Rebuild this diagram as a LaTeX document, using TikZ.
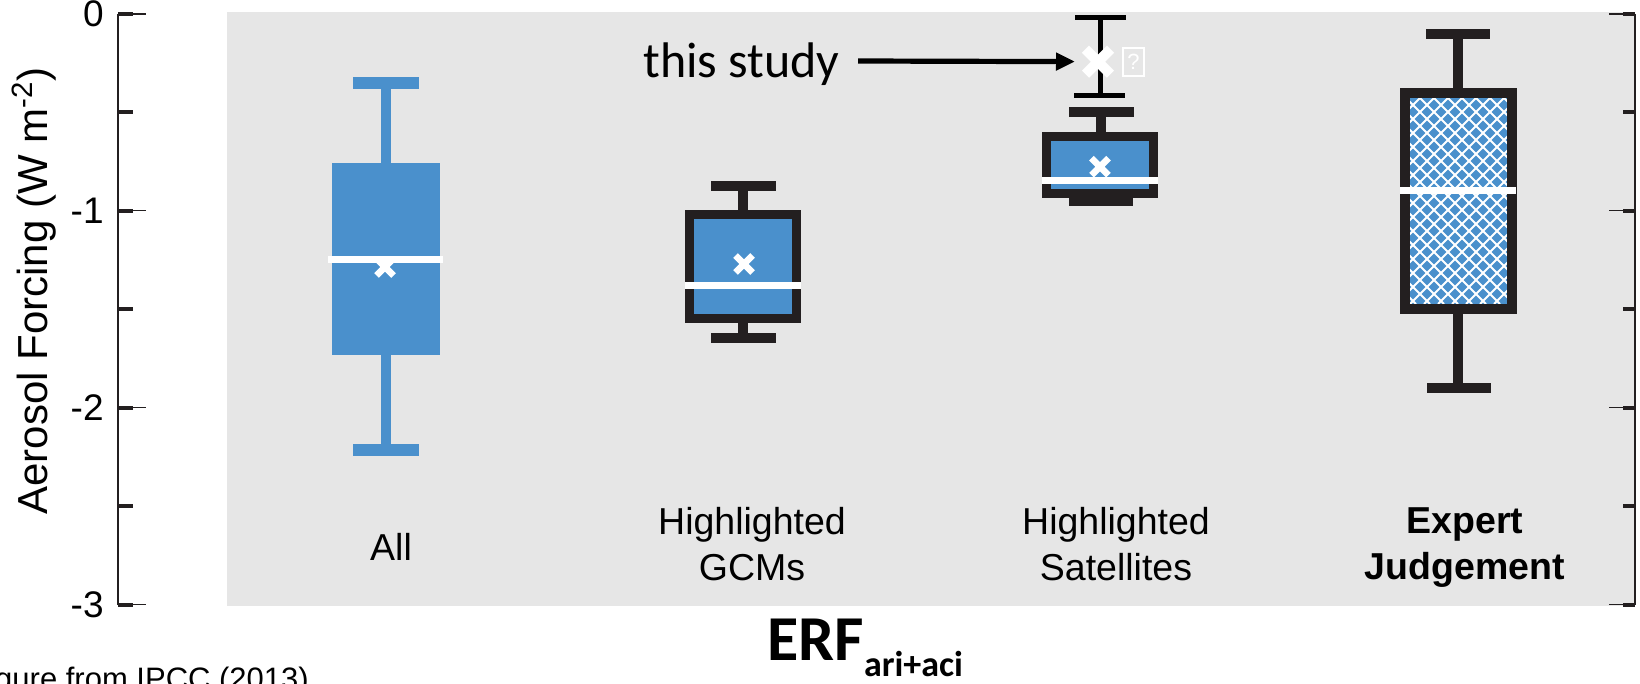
\documentclass[tikz,border=0pt]{standalone}
\usepackage{fontspec}
\setmainfont{Liberation Sans}
\newfontfamily\carlito{Carlito}
\usetikzlibrary{arrows.meta}
\definecolor{panel}{RGB}{230,230,230}
\definecolor{boxblue}{RGB}{74,144,204}
\definecolor{ink}{RGB}{35,31,32}
\tikzset{
  bluewhisk/.style={draw=boxblue, line width=5pt},
  blackwhisk/.style={draw=ink, line width=5pt},
  thinwhisk/.style={draw=black, line width=2.5pt},
  medline/.style={draw=white, line width=3.5pt},
  boxframe/.style={draw=ink, fill=boxblue, line width=4.5pt},
  axisline/.style={draw=ink, line width=1pt},
  majtick/.style={draw=ink, line width=2pt},
  mintick/.style={draw=ink, line width=0.7pt},
  ticklab/.style={anchor=east, inner sep=0pt, font=\fontsize{18.5}{20}\selectfont},
  catlabel/.style={anchor=north, inner sep=0pt, align=center, font=\fontsize{18.75}{23}\selectfont},
  meanx/.pic={\draw[white, line width=3.3pt] (-8.5,-8.5) -- (8.5,8.5) (-8.5,8.5) -- (8.5,-8.5);},
  bigx/.pic={\draw[white, line width=5pt] (-12.5,-12.5) -- (12.5,12.5) (-12.5,12.5) -- (12.5,-12.5);}
}
\begin{document}
\begin{tikzpicture}[x=0.5pt, y=-0.5pt]
\useasboundingbox (0,0) rectangle (1640,684);
% panel
\fill[panel] (227,12.3) rectangle (1635,605.7);
% left axis
\draw[axisline] (118,14) -- (118,604.5);
\foreach \yy in {14,112.4,210.8,309.2,407.6,506,604.5}
  \draw[majtick] (118,\yy) -- (133,\yy);
\foreach \yy in {14,210.8,407.6,604.5}
  \draw[mintick] (133,\yy) -- (146,\yy);
\node[ticklab] (t0) at (104,14) {0};
\node[ticklab] (t1) at (104,210.8) {-1};
\node[ticklab] (t2) at (104,407.6) {-2};
\node[ticklab] (t3) at (104,604.5) {-3};
\node[rotate=90, font=\fontsize{21}{23}\selectfont] (ylab) at (34,291) {Aerosol Forcing (W m\textsuperscript{-2})};
% right axis
\draw[axisline] (1635,14) -- (1635,604.5);
\foreach \yy in {14,112.4,210.8,309.2,407.6,506,604.5}
  \draw[majtick] (1623,\yy) -- (1635,\yy);
\foreach \yy in {14,210.8,407.6,604.5}
  \draw[mintick] (1609,\yy) -- (1623,\yy);

% ---- All ----
\draw[bluewhisk] (386,83) -- (386,450);
\draw[draw=boxblue, line width=6pt] (353,83) -- (419,83);
\draw[draw=boxblue, line width=6pt] (353,450) -- (419,450);
\fill[boxblue] (332,163) rectangle (440,355);
\draw[medline] (328,259.5) -- (443,259.5);
\pic at (385,267) {meanx};

% ---- GCMs ----
\draw[blackwhisk] (743,185.7) -- (743,338);
\draw[blackwhisk] (711,185.7) -- (776,185.7);
\draw[blackwhisk] (711,338) -- (776,338);
\draw[boxframe] (689.5,214.5) rectangle (796.5,318.5);
\draw[medline] (685,286) -- (801,286);
\pic at (744,264) {meanx};

% ---- Satellites ----
\draw[blackwhisk] (1101,112) -- (1101,201);
\draw[blackwhisk] (1069,112) -- (1134,112);
\draw[blackwhisk] (1069,201) -- (1133,201);
\draw[boxframe] (1046.5,137) rectangle (1153.5,193.5);
\draw[medline] (1042,181) -- (1158,181);
\pic at (1100,166.7) {meanx};

% ---- this study ----
\draw[thinwhisk] (1100,17.3) -- (1100,96);
\draw[thinwhisk] (1075,17.3) -- (1126,17.3);
\draw[thinwhisk] (1074,96) -- (1125,96);
\coordinate (thisx) at (1098,61.7);
\pic at (thisx) {bigx};
\node[draw=white, line width=0.6pt, text=white, minimum width=10.5pt, minimum height=14pt, inner sep=0pt, font=\fontsize{11}{11}\selectfont] (qbox) at (1133.5,62) {?};
\node[anchor=base west, inner sep=0pt, font=\carlito\fontsize{25}{27}\selectfont] (study) at (643,78) {this study};
\coordinate (tail) at (858,61);
\draw[black, line width=2.6pt, -{Triangle[length=9.5pt, width=8.5pt]}, shorten >=11.5pt] (tail) -- (thisx);

% ---- Expert Judgement ----
\draw[blackwhisk] (1458,33.7) -- (1458,388);
\draw[blackwhisk] (1426,33.7) -- (1490,33.7);
\draw[blackwhisk] (1427,388) -- (1491,388);
\fill[boxblue] (1405,93.3) rectangle (1512,309.3);
\begin{scope}
  \clip (1405,93.3) rectangle (1512,309.3);
  \foreach \i in {0,...,38} {
    \draw[white, line width=0.9pt] (1196+\i*14,98) -- ++(206,206);
    \draw[white, line width=0.9pt] (1196+\i*14,98) -- ++(-206,206);
  }
\end{scope}
\draw[draw=ink, line width=5pt] (1405,93.3) rectangle (1512,309.3);
\draw[medline] (1400,190.7) -- (1516,190.7);

% ---- category labels ----
\node[catlabel] (lall) at (391,533) {All};
\node[catlabel] (lgcm) at (752,507) {Highlighted\\GCMs};
\node[catlabel] (lsat) at (1116,507) {Highlighted\\Satellites};
\node[catlabel, font=\fontsize{18.75}{23}\selectfont\bfseries] (lexp) at (1465,507) {Expert\\Judgement};

% ---- bottom texts ----
\node[anchor=base west, inner sep=0pt, font=\carlito\bfseries\fontsize{32}{34}\selectfont] (erf) at (767,660) {ERF\raisebox{-8pt}{\fontsize{18}{20}\selectfont ari+aci}};
\node[anchor=base west, inner sep=0pt, font=\fontsize{15.5}{17}\selectfont] (src) at (-31,689) {Figure from IPCC (2013)};
\end{tikzpicture}
\end{document}
